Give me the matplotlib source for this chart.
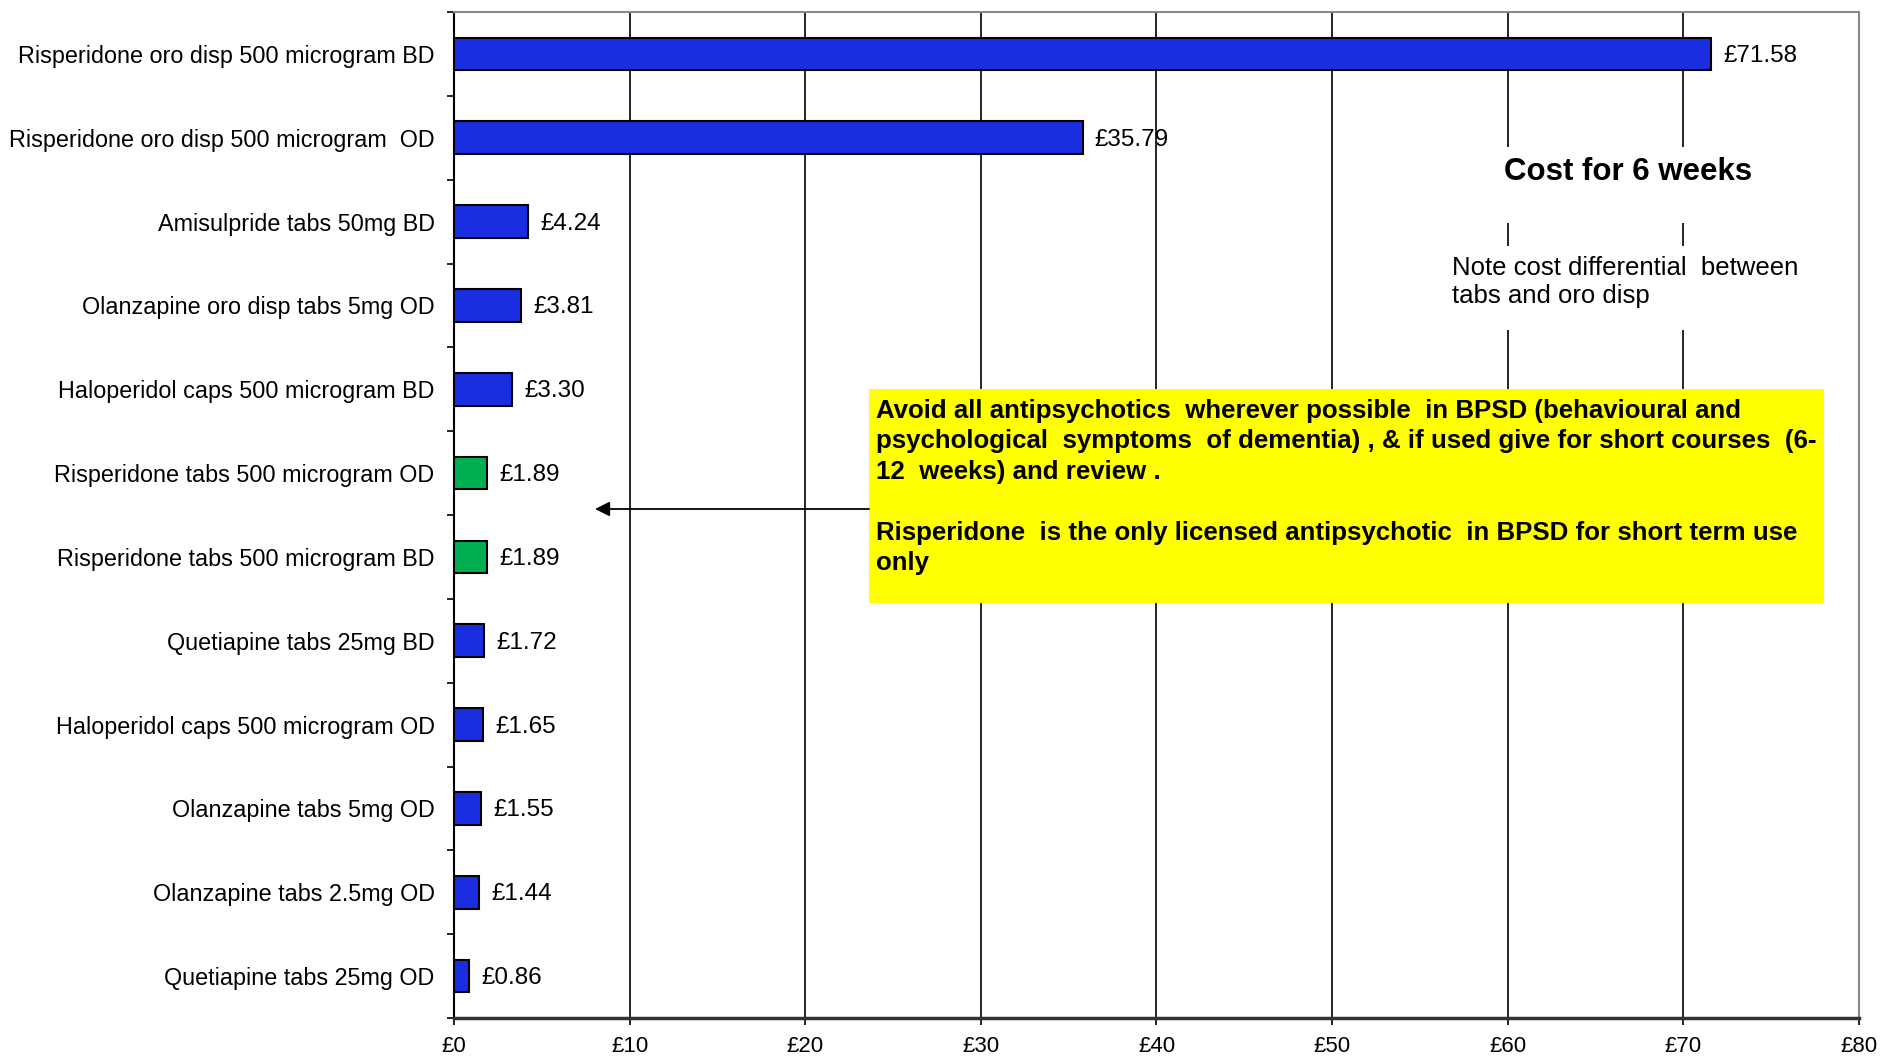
import matplotlib.pyplot as plt
from matplotlib.patches import Rectangle
import numpy as np

plt.rcParams['font.family'] = ['Liberation Sans', 'DejaVu Sans']

DRUGS = [
    "Risperidone oro disp 500 microgram BD",
    "Risperidone oro disp 500 microgram  OD",
    "Amisulpride tabs 50mg BD",
    "Olanzapine oro disp tabs 5mg OD",
    "Haloperidol caps 500 microgram BD",
    "Risperidone tabs 500 microgram OD",
    "Risperidone tabs 500 microgram BD",
    "Quetiapine tabs 25mg BD",
    "Haloperidol caps 500 microgram OD",
    "Olanzapine tabs 5mg OD",
    "Olanzapine tabs 2.5mg OD",
    "Quetiapine tabs 25mg OD",
]
COSTS = [71.58, 35.79, 4.24, 3.81, 3.30, 1.89, 1.89, 1.72, 1.65, 1.55, 1.44, 0.86]
LICENSED = [False, False, False, False, False, True, True, False, False, False, False, False]
XTICKS = [0, 10, 20, 30, 40, 50, 60, 70, 80]

BLUE = "#1a2de0"
GREEN = "#00b050"

W, H = 1883, 1056
L, R, T, B = 454, 1859, 12, 1018


def ax_frac(px, py):
    # full-size pixel position -> axes fraction
    return (px - L) / (R - L), (B - py) / (B - T)


def white_box(ax, px0, py0, px1, py1, color="white"):
    x0, y0 = ax_frac(px0, py1)
    x1, y1 = ax_frac(px1, py0)
    ax.add_patch(Rectangle((x0, y0), x1 - x0, y1 - y0, transform=ax.transAxes,
                           facecolor=color, edgecolor="none", zorder=5))


fig = plt.figure(figsize=(W / 100, H / 100), dpi=100)
ax = fig.add_axes([L / W, 1 - B / H, (R - L) / W, (B - T) / H])

y = np.arange(len(DRUGS))
colors = [GREEN if lic else BLUE for lic in LICENSED]
ax.barh(y, COSTS, height=0.39, color=colors, edgecolor="black", linewidth=1.5, zorder=3)

for yi, c in zip(y, COSTS):
    ax.annotate("£%.2f" % c, (c, yi), xytext=(12, -2), textcoords="offset pixels",
                va="center", ha="left", fontsize=17.5, zorder=4)

ax.set_xlim(0, 80)
ax.set_ylim(len(DRUGS) - 0.5, -0.5)
ax.set_xticks(XTICKS)
ax.set_xticklabels(["£%d" % v for v in XTICKS], fontsize=16)
ax.set_yticks(y)
ax.set_yticklabels(DRUGS, fontsize=16.8)
ax.set_yticks(np.arange(len(DRUGS) + 1) - 0.5, minor=True)
ax.tick_params(axis="y", which="major", length=0, pad=14)
ax.tick_params(axis="y", which="minor", length=5, width=1.2, direction="out")
ax.tick_params(axis="x", length=5, width=1.2, direction="out", pad=8)

ax.grid(axis="x", color="black", linewidth=1.2, zorder=0)
ax.set_axisbelow(True)
ax.spines["left"].set_linewidth(1.5)
ax.spines["bottom"].set_linewidth(2.5)
ax.spines["bottom"].set_color("#333333")
for s in ("top", "right"):
    ax.spines[s].set_color("#888888")
    ax.spines[s].set_linewidth(1.5)

# yellow note box and arrow
white_box(ax, 869, 389, 1824, 603, color="#ffff00")
tx, ty = ax_frac(876, 399)
ax.text(tx, ty,
        "Avoid all antipsychotics  wherever possible  in BPSD (behavioural and\n"
        "psychological  symptoms  of dementia) , & if used give for short courses  (6-\n"
        "12  weeks) and review .\n\n"
        "Risperidone  is the only licensed antipsychotic  in BPSD for short term use\n"
        "only",
        transform=ax.transAxes, ha="left", va="top", fontsize=18.6, fontweight="bold",
        linespacing=1.34, zorder=6)
ax.annotate("", xy=ax_frac(595, 509), xycoords="axes fraction",
            xytext=ax_frac(869, 509), textcoords="axes fraction",
            arrowprops=dict(arrowstyle="-|>", color="black", lw=1.3,
                            mutation_scale=22, shrinkA=0, shrinkB=0), zorder=6)

# text boxes in the upper right hide the gridlines behind them
white_box(ax, 1440, 147, 1800, 223)
white_box(ax, 1440, 246, 1810, 330)
cx, cy = ax_frac(1628, 172)
ax.text(cx, cy, "Cost for 6 weeks", transform=ax.transAxes, ha="center", va="center",
        fontsize=22.5, fontweight="bold", zorder=6)
nx, ny = ax_frac(1452, 282)
ax.text(nx, ny, "Note cost differential  between\ntabs and oro disp", transform=ax.transAxes,
        ha="left", va="center", fontsize=18.5, linespacing=1.25, zorder=6)

fig.savefig("out.png", dpi=100)
